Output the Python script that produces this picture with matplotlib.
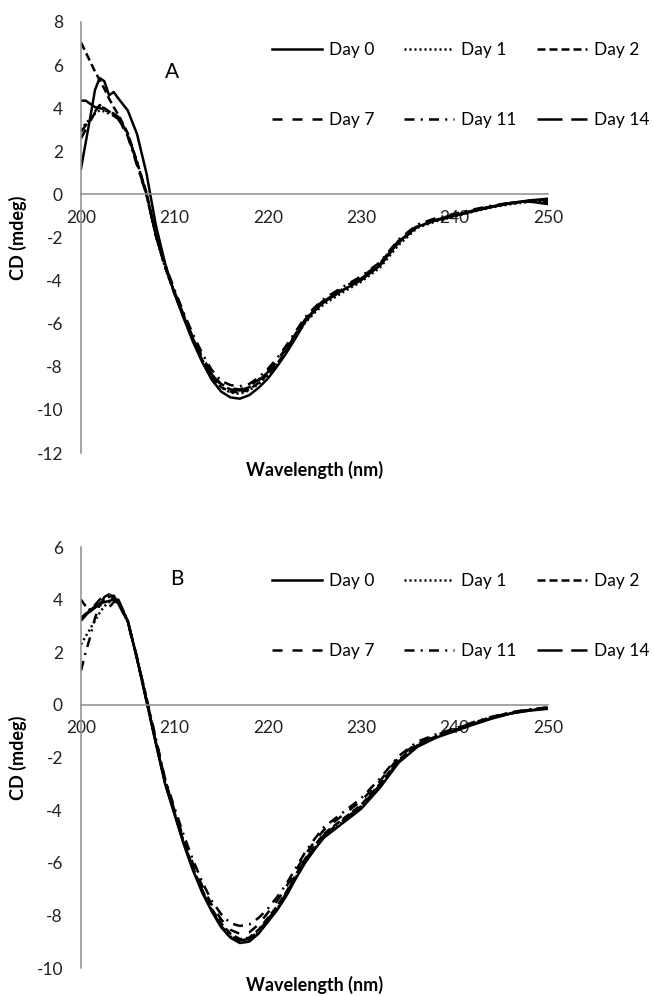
import matplotlib

matplotlib.use('Agg')
import matplotlib.pyplot as plt

plt.rcParams['font.family'] = ['Lato', 'DejaVu Sans']
plt.rcParams['axes.unicode_minus'] = False

wavelength = [200, 200.5, 201, 201.5, 202, 202.5, 203, 203.5, 204,
              205, 206, 207, 208, 209, 210, 211, 212, 213, 214, 215, 216,
              217, 218, 219, 220, 221, 222, 223, 224, 225, 226,
              228, 230, 232, 234, 236, 238, 240, 242, 244, 246, 248, 250]

days = ['Day 0', 'Day 1', 'Day 2', 'Day 7', 'Day 11', 'Day 14']

# panel A
a_day0 = [1.2, 2.4, 3.6, 4.85, 5.4, 5.25, 4.6, 4.75, 4.45,
          3.9, 2.8, 1.0, -1.4, -3.2, -4.6, -5.75, -6.85, -7.8, -8.6, -9.15, -9.42,
          -9.48, -9.32, -8.98, -8.55, -7.98, -7.35, -6.65, -5.9, -5.4, -5.0,
          -4.45, -3.98, -3.3, -2.2, -1.5, -1.2, -1.0, -0.78, -0.58, -0.4, -0.28, -0.2]
a_day1 = [3.0, 3.3, 3.5, 3.75, 3.9, 3.85, 3.75, 3.7, 3.55,
          2.8, 1.5, 0.05, -1.9, -3.4, -4.55, -5.7, -6.75, -7.7, -8.45, -8.95, -9.2,
          -9.25, -9.1, -8.8, -8.4, -7.9, -7.3, -6.6, -5.95, -5.5, -5.1,
          -4.55, -4.05, -3.4, -2.35, -1.55, -1.25, -1.02, -0.8, -0.6, -0.45, -0.35, -0.3]
a_day2 = [7.05, 6.6, 6.15, 5.7, 5.3, 4.9, 4.45, 4.05, 3.7,
          2.85, 1.5, 0.1, -1.85, -3.35, -4.6, -5.7, -6.8, -7.7, -8.45, -8.95, -9.15,
          -9.2, -9.05, -8.75, -8.35, -7.85, -7.25, -6.55, -5.9, -5.4, -5.0,
          -4.45, -3.95, -3.3, -2.25, -1.5, -1.2, -0.98, -0.76, -0.56, -0.4, -0.3, -0.25]
a_day7 = [2.6, 3.0, 3.4, 3.8, 4.1, 4.0, 3.85, 3.7, 3.5,
          2.75, 1.4, 0.0, -1.9, -3.35, -4.5, -5.6, -6.65, -7.55, -8.3, -8.8, -9.0,
          -9.05, -8.9, -8.6, -8.2, -7.7, -7.1, -6.45, -5.8, -5.3, -4.9,
          -4.35, -3.85, -3.2, -2.15, -1.45, -1.15, -0.95, -0.75, -0.55, -0.4, -0.32, -0.35]
a_day11 = [2.9, 3.2, 3.5, 3.85, 4.15, 3.95, 3.75, 3.65, 3.5,
           2.7, 1.35, 0.0, -1.85, -3.25, -4.4, -5.5, -6.5, -7.4, -8.15, -8.65, -8.85,
           -8.9, -8.8, -8.5, -8.1, -7.6, -7.0, -6.35, -5.7, -5.25, -4.85,
           -4.3, -3.8, -3.15, -2.1, -1.4, -1.1, -0.9, -0.7, -0.52, -0.38, -0.3, -0.4]
a_day14 = [4.35, 4.35, 4.2, 4.05, 4.0, 3.95, 3.85, 3.75, 3.6,
           2.8, 1.45, 0.05, -1.9, -3.35, -4.55, -5.65, -6.7, -7.6, -8.35, -8.85, -9.05,
           -9.1, -8.95, -8.65, -8.25, -7.75, -7.15, -6.5, -5.85, -5.35, -4.95,
           -4.4, -3.9, -3.25, -2.2, -1.5, -1.18, -0.97, -0.77, -0.57, -0.42, -0.33, -0.45]

# panel B
b_day0 = [3.3, 3.45, 3.6, 3.75, 3.85, 3.9, 3.95, 4.0, 3.85,
          3.2, 1.75, 0.15, -1.45, -3.0, -4.15, -5.3, -6.3, -7.15, -7.85, -8.45, -8.85,
          -9.05, -9.0, -8.7, -8.25, -7.8, -7.25, -6.6, -6.0, -5.5, -5.05,
          -4.5, -3.95, -3.15, -2.2, -1.6, -1.25, -1.0, -0.75, -0.52, -0.33, -0.22, -0.15]
b_day1 = [2.3, 2.6, 2.9, 3.2, 3.5, 3.75, 3.9, 4.1, 3.95,
          3.2, 1.8, 0.2, -1.4, -2.95, -4.1, -5.25, -6.25, -7.1, -7.8, -8.4, -8.8,
          -9.0, -8.95, -8.65, -8.2, -7.75, -7.2, -6.55, -5.95, -5.45, -5.0,
          -4.45, -3.9, -3.1, -2.15, -1.55, -1.22, -0.98, -0.74, -0.5, -0.32, -0.2, -0.12]
b_day2 = [4.0, 3.75, 3.6, 3.7, 3.85, 4.0, 4.1, 4.15, 3.95,
          3.2, 1.75, 0.2, -1.4, -2.95, -4.1, -5.2, -6.2, -7.05, -7.75, -8.3, -8.7,
          -8.9, -8.85, -8.55, -8.1, -7.65, -7.1, -6.45, -5.85, -5.35, -4.9,
          -4.35, -3.8, -3.0, -2.1, -1.5, -1.2, -0.96, -0.72, -0.5, -0.32, -0.2, -0.12]
b_day7 = [3.2, 3.4, 3.6, 3.8, 4.0, 4.15, 4.2, 4.1, 3.9,
          3.15, 1.8, 0.25, -1.3, -2.85, -4.0, -5.1, -6.05, -6.9, -7.6, -8.15, -8.55,
          -8.7, -8.65, -8.35, -7.9, -7.45, -6.9, -6.3, -5.7, -5.2, -4.75,
          -4.2, -3.65, -2.9, -2.0, -1.45, -1.15, -0.92, -0.68, -0.46, -0.3, -0.18, -0.1]
b_day11 = [1.3, 2.0, 2.6, 3.3, 3.8, 4.1, 4.2, 4.0, 3.85,
           3.15, 1.8, 0.3, -1.25, -2.8, -3.9, -4.95, -5.9, -6.75, -7.45, -7.95, -8.3,
           -8.4, -8.35, -8.1, -7.75, -7.3, -6.8, -6.2, -5.6, -5.1, -4.65,
           -4.1, -3.55, -2.8, -1.95, -1.4, -1.12, -0.9, -0.66, -0.45, -0.28, -0.17, -0.1]
b_day14 = [3.3, 3.45, 3.55, 3.7, 3.8, 3.75, 3.7, 3.9, 4.0,
           3.2, 1.75, 0.2, -1.4, -2.95, -4.1, -5.25, -6.25, -7.1, -7.8, -8.4, -8.8,
           -8.95, -8.9, -8.6, -8.15, -7.7, -7.15, -6.5, -5.9, -5.4, -4.95,
           -4.4, -3.85, -3.05, -2.15, -1.55, -1.22, -0.97, -0.73, -0.5, -0.32, -0.2, -0.12]

line_styles = ['-', (0, (0.8, 1.2)), (0, (3.2, 1.6)), (0, (4, 4)),
               (0, (4, 2.5, 0.8, 2.5)), (0, (10, 3.5))]

AXIS_GREY = '#8c8c8c'
W, H = 654, 996


def draw_panel(ax, series, ylim, yticks, letter, letter_pos):
    handles = []
    for values, ls, label in zip(series, line_styles, days):
        h, = ax.plot(wavelength, values, color='black', lw=1.8,
                     linestyle=ls, label=label)
        handles.append(h)

    ax.set_xlim(200, 250)
    ax.set_ylim(*ylim)
    ax.set_xticks([200, 210, 220, 230, 240, 250])
    ax.set_yticks(yticks)

    ax.spines['top'].set_visible(False)
    ax.spines['right'].set_visible(False)
    ax.spines['bottom'].set_position(('data', 0))
    ax.spines['bottom'].set_color(AXIS_GREY)
    ax.spines['left'].set_color(AXIS_GREY)
    ax.spines['bottom'].set_linewidth(1.1)
    ax.spines['left'].set_linewidth(1.1)
    ax.tick_params(axis='x', length=0, pad=11, labelsize=12.5, colors='#222222')
    ax.tick_params(axis='y', length=0, pad=13, labelsize=12.5, colors='#222222')

    ax.text(letter_pos[0], letter_pos[1], letter, transform=ax.transAxes,
            fontsize=15, ha='center', va='center')
    return handles


fig = plt.figure(figsize=(W / 100, H / 100), dpi=100)

# axes boxes in pixel coordinates (left, top, right, bottom)
box_a = (81, 22, 548, 453)
box_b = (81, 547, 548, 968)


def add_axes(box):
    l, t, r, b = box
    return fig.add_axes([l / W, 1 - b / H, (r - l) / W, (b - t) / H])


ax_a = add_axes(box_a)
ax_b = add_axes(box_b)

hand_a = draw_panel(ax_a, [a_day0, a_day1, a_day2, a_day7, a_day11, a_day14],
                    (-12, 8), range(-12, 9, 2), 'A', (0.195, 0.884))
hand_b = draw_panel(ax_b, [b_day0, b_day1, b_day2, b_day7, b_day11, b_day14],
                    (-10, 6), range(-10, 7, 2), 'B', (0.206, 0.924))

# excel-style legend: equal width columns, filled row by row
col_x = [272, 404, 537]
for hands, top in [(hand_a, 42), (hand_b, 573)]:
    for c, x in enumerate(col_x):
        idx = [c, c + 3]
        fig.legend([hands[i] for i in idx], [days[i] for i in idx],
                   loc='upper left', bbox_to_anchor=(x / W, 1 - top / H),
                   ncol=1, frameon=False, fontsize=12.5, handlelength=2.9,
                   handletextpad=0.4, labelspacing=3.1,
                   borderpad=0, borderaxespad=0)

for box in (box_a, box_b):
    l, t, r, b = box
    fig.text((l + r) / 2 / W, 1 - (b + 17) / H, 'Wavelength (nm)',
             ha='center', va='center', fontsize=13, fontweight='bold')
    fig.text(18 / W, 1 - (t + b) / 2 / H, 'CD (mdeg)', rotation=90,
             ha='center', va='center', fontsize=13, fontweight='bold')

fig.savefig('out.png', dpi=100)
